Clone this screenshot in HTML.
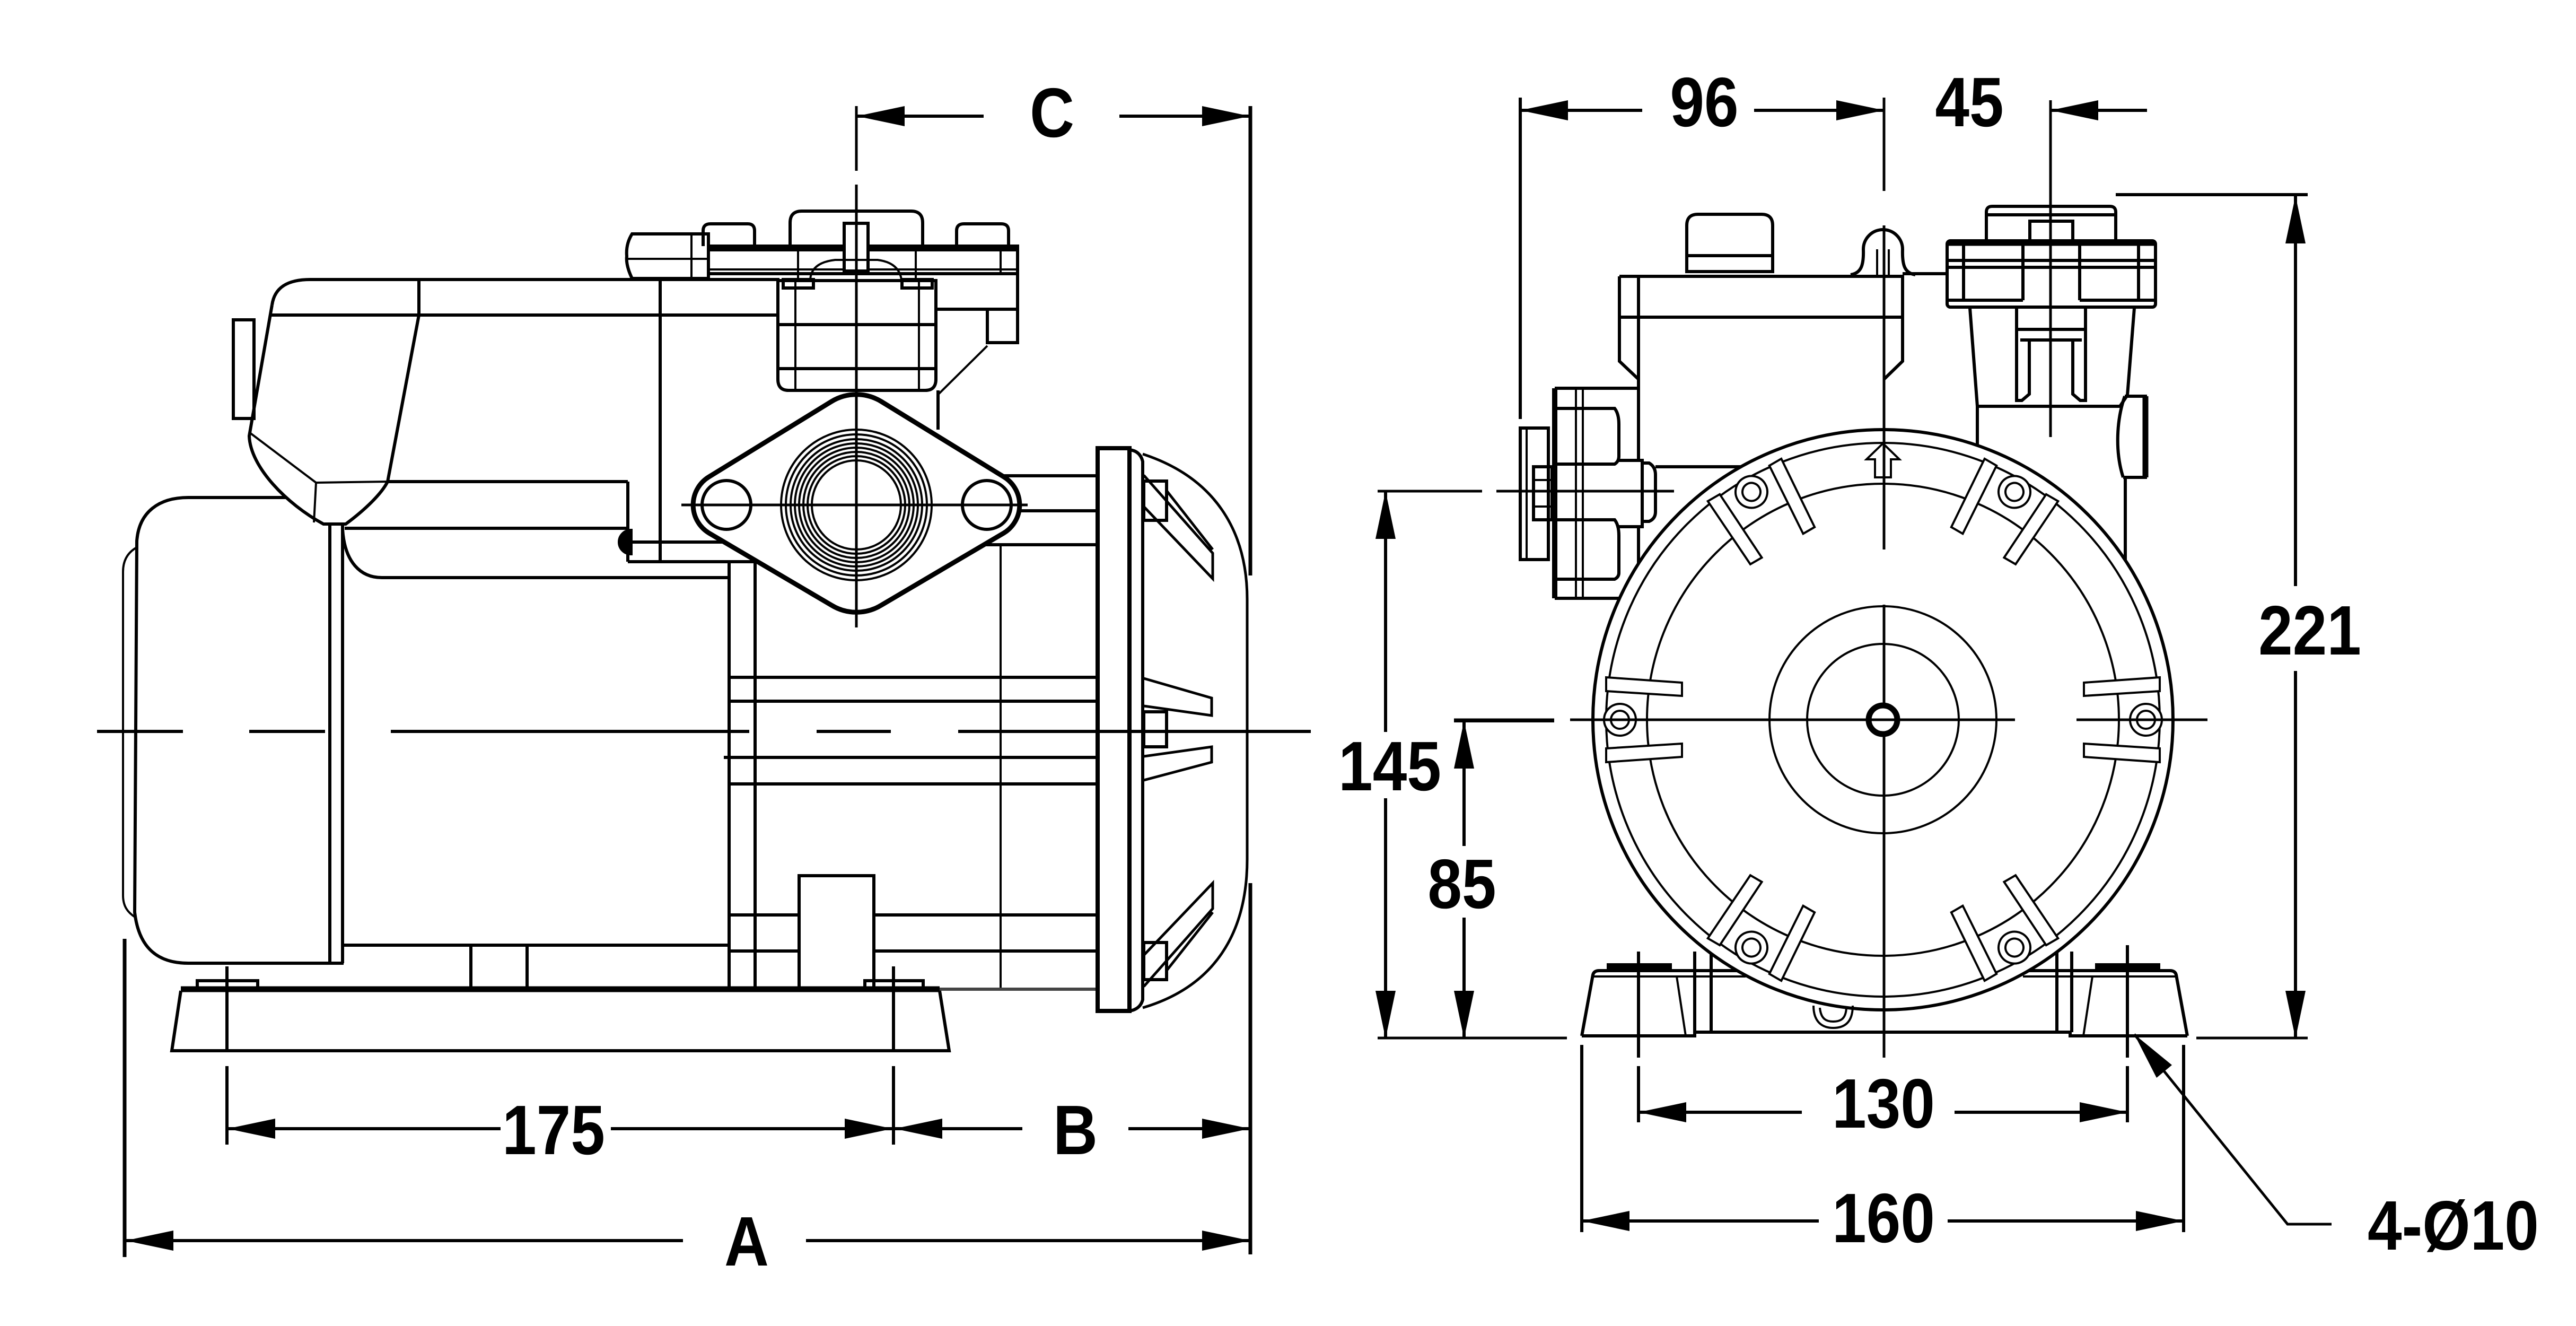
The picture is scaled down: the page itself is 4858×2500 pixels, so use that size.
<!DOCTYPE html>
<html><head><meta charset="utf-8"><style>
html,body{margin:0;padding:0;background:#fff;}
svg{display:block}
.k{stroke:#000;fill:none;stroke-width:6;stroke-linecap:butt;stroke-linejoin:miter}
.t{stroke-width:4}
.w{fill:#fff}
.tx{font-family:"Liberation Sans",Arial,sans-serif;font-weight:bold;font-size:132px;fill:#000}
</style></head><body>
<svg width="4858" height="2500" viewBox="0 0 4858 2500" xmlns="http://www.w3.org/2000/svg">
<defs>
<g id="bolt">
 <polygon class="k t w" points="379,45 522,54 522,80 379,70"/>
 <polygon class="k t w" points="379,-45 522,-54 522,-80 379,-70"/>
 <circle cx="496" cy="0" r="30" class="k t w"/>
 <circle cx="496" cy="0" r="17" class="k t"/>
</g>
</defs>
<rect width="4858" height="2500" fill="#fff"/>

<!-- ================= LEFT VIEW ================= -->
<g class="k">
 <!-- motor rear cap -->
 <path d="M540,938 L355,938 C300,938 262,965 258,1020 L254,1720 C262,1790 300,1816 355,1816 L648,1816"/>
 <path class="t" d="M258,1032 C240,1042 232,1058 232,1078 L232,1688 C232,1708 240,1720 256,1730"/>
 <line x1="622" y1="989" x2="622" y2="1816"/>
 <line x1="646" y1="989" x2="646" y2="1816"/>
 <!-- control box -->
 <path d="M513,575 C518,540 545,527 585,527 L1470,527"/>
 <line x1="509" y1="594" x2="1467" y2="594"/>
 <path d="M790,527 L790,594 L731,908"/>
 <path d="M513,575 L470,822 C472,880 540,950 610,988 L652,988 C690,960 720,930 731,908"/>
 <path class="t" d="M470,815 L596,910 L730,908 M596,910 L592,985"/>
 <rect x="440" y="603" width="39" height="186"/>
 <!-- motor top -->
 <line x1="650" y1="996" x2="1184" y2="996"/>
 <line x1="730" y1="908" x2="1184" y2="908"/>
 <line x1="1184" y1="908" x2="1184" y2="1059"/>
 <line x1="1184" y1="1022" x2="1375" y2="1022"/>
 <line x1="1184" y1="1059" x2="1424" y2="1059"/>
 <path d="M646,998 C650,1060 680,1089 720,1089 L1375,1089"/>
 <line x1="1245" y1="527" x2="1245" y2="1059"/>
 <!-- motor bottom -->
 <line x1="646" y1="1782" x2="1375" y2="1782"/>
 <line x1="888" y1="1782" x2="888" y2="1865"/>
 <line x1="994" y1="1782" x2="994" y2="1865"/>
 <!-- casing -->
 <line x1="1375" y1="1059" x2="1375" y2="1865"/>
 <line x1="1424" y1="1059" x2="1424" y2="1865"/>
 <line x1="1887" y1="1027" x2="1887" y2="1865" class="t"/>
 <line x1="1375" y1="1277" x2="2070" y2="1277"/>
 <line x1="1375" y1="1322" x2="2070" y2="1322"/>
 <line x1="1365" y1="1428" x2="2070" y2="1428"/>
 <line x1="1375" y1="1478" x2="2070" y2="1478"/>
 <line x1="1375" y1="1725" x2="1507" y2="1725"/>
 <line x1="1648" y1="1725" x2="2070" y2="1725"/>
 <line x1="1375" y1="1793" x2="1507" y2="1793"/>
 <line x1="1648" y1="1793" x2="2070" y2="1793"/>
 <rect x="1507" y="1651" width="141" height="214"/>
 <line x1="1772" y1="1865" x2="2070" y2="1865" stroke="#444"/>
 <!-- base -->
 <line x1="341" y1="1865" x2="1772" y2="1865" stroke-width="11"/>
 <path d="M341,1868 L324,1981 L1790,1981 L1772,1868"/>
 <rect x="372" y="1849" width="114" height="16"/>
 <rect x="1631" y="1849" width="110" height="16"/>

 <!-- top outlet assembly -->
 <path d="M1490,464 L1490,420 Q1490,398 1512,398 L1718,398 Q1740,398 1740,420 L1740,464"/>
 <path d="M1326,464 L1326,435 Q1326,422 1340,422 L1410,422 Q1423,422 1423,435 L1423,464"/>
 <path d="M1804,464 L1804,435 Q1804,422 1818,422 L1888,422 Q1902,422 1902,435 L1902,464"/>
 <rect x="1336" y="464" width="583" height="52"/>
 <line x1="1336" y1="470" x2="1919" y2="470" stroke-width="8"/>
 <line x1="1336" y1="508" x2="1919" y2="508" class="t"/>
 <line x1="1505" y1="470" x2="1505" y2="527" class="t"/>
 <line x1="1727" y1="470" x2="1727" y2="527" class="t"/>
 <line x1="1887" y1="470" x2="1887" y2="516" class="t"/>
 <path d="M1192,441 L1336,441 L1336,525 L1192,525 Q1180,500 1182,483 Q1180,460 1192,441 Z"/>
 <line x1="1182" y1="488" x2="1336" y2="488" class="t"/>
 <line x1="1304" y1="441" x2="1304" y2="525" class="t"/>
 <rect x="1592" y="421" width="45" height="90" class="w"/>
 <line x1="1615" y1="421" x2="1615" y2="511" class="t"/>
 <path d="M1528,527 Q1530,495 1575,490 L1655,490 Q1695,495 1700,527" class="t"/>
 <rect x="1477" y="527" width="57" height="16"/>
 <rect x="1701" y="527" width="57" height="16"/>
 <path d="M1467,529 L1765,529 L1765,715 Q1765,736 1745,736 L1487,736 Q1467,736 1467,715 Z"/>
 <line x1="1500" y1="529" x2="1500" y2="736" class="t"/>
 <line x1="1733" y1="529" x2="1733" y2="736" class="t"/>
 <line x1="1467" y1="612" x2="1765" y2="612"/>
 <line x1="1467" y1="695" x2="1765" y2="695"/>
 <path d="M1765,516 L1919,516 L1919,646 L1862,646 L1862,583 L1765,583"/>
 <line x1="1862" y1="583" x2="1919" y2="583"/>
 <path d="M1862,652 L1769,744" class="t"/>
 <line x1="1769" y1="736" x2="1769" y2="810"/>
 <path d="M1190,1000 A22,22 0 0 0 1190,1044 Z" fill="#000"/>

 <!-- flange lines on right -->
 <line x1="1860" y1="897" x2="2070" y2="897"/>
 <line x1="1860" y1="963" x2="2070" y2="963"/>
 <line x1="1860" y1="1027" x2="2070" y2="1027"/>
 <!-- outlet flange diamond -->
 <path class="w" stroke-width="9" d="M1337,899 L1568,757 A90,90 0 0 1 1662,757 L1893,899 A62,62 0 0 1 1893,1005 L1662,1141 A90,90 0 0 1 1568,1141 L1337,1005 A62,62 0 0 1 1337,899 Z"/>
 <circle cx="1370" cy="952" r="46"/>
 <circle cx="1861" cy="952" r="46"/>
 <g class="t" stroke-width="3.5">
  <circle cx="1615" cy="952" r="84"/><circle cx="1615" cy="952" r="92"/>
  <circle cx="1615" cy="952" r="100"/><circle cx="1615" cy="952" r="108"/>
  <circle cx="1615" cy="952" r="116"/><circle cx="1615" cy="952" r="124"/>
  <circle cx="1615" cy="952" r="133"/><circle cx="1615" cy="952" r="142"/>
 </g>
 <line x1="1285" y1="952" x2="1938" y2="952" stroke-width="5"/>
 <line x1="1615" y1="200" x2="1615" y2="322" stroke-width="5"/>
 <line x1="1615" y1="348" x2="1615" y2="1183" stroke-width="5"/>

 <!-- right end flange and fan cover -->
 <rect x="2070" y="845" width="60" height="1061" stroke-width="8"/>
 <path d="M2130,848 Q2150,850 2155,870 L2155,1885 Q2150,1903 2130,1906"/>
 <path d="M2155,856 C2290,900 2352,1000 2352,1130 L2352,1620 C2352,1760 2290,1860 2155,1900" stroke-width="5"/>
 <rect x="2157" y="907" width="43" height="74"/>
 <path d="M2157,896 L2287,1043 L2287,1091 L2157,955 M2200,925 L2287,1036" stroke-width="5"/>
 <rect x="2157" y="1342" width="43" height="66"/>
 <polyline points="2157,1279 2285,1316 2285,1349 2157,1331" stroke-width="5"/>
 <polyline points="2157,1426 2285,1408 2285,1437 2157,1471" stroke-width="5"/>
 <rect x="2157" y="1777" width="43" height="70"/>
 <path d="M2157,1860 L2287,1713 L2287,1665 L2157,1801 M2200,1830 L2287,1720" stroke-width="5"/>

 <!-- centre line -->
 <g stroke-width="6">
  <line x1="183" y1="1379" x2="345" y2="1379"/>
  <line x1="470" y1="1379" x2="613" y2="1379"/>
  <line x1="737" y1="1379" x2="1413" y2="1379"/>
  <line x1="1540" y1="1379" x2="1680" y2="1379"/>
  <line x1="1807" y1="1379" x2="2472" y2="1379"/>
 </g>

 <!-- dimension lines left view -->
 <line x1="1616" y1="219" x2="1855" y2="219"/>
 <line x1="2111" y1="219" x2="2357" y2="219"/>
 <line x1="2358" y1="200" x2="2358" y2="1085" stroke-width="7"/>
 <line x1="2358" y1="1665" x2="2358" y2="2365" stroke-width="7"/>
 <line x1="429" y1="2128" x2="944" y2="2128"/>
 <line x1="1152" y1="2128" x2="1928" y2="2128"/>
 <line x1="2128" y1="2128" x2="2358" y2="2128"/>
 <line x1="428" y1="1822" x2="428" y2="1984"/>
 <line x1="428" y1="2010" x2="428" y2="2158"/>
 <line x1="1685" y1="1822" x2="1685" y2="1984"/>
 <line x1="1685" y1="2010" x2="1685" y2="2158"/>
 <line x1="237" y1="2339" x2="1288" y2="2339"/>
 <line x1="1520" y1="2339" x2="2358" y2="2339"/>
 <line x1="235" y1="1770" x2="235" y2="2370" stroke-width="7"/>
</g>

<!-- ================= RIGHT VIEW ================= -->
<g class="k">
 <!-- base -->
 <path d="M2983,1953 L3004,1838 Q3006,1830 3016,1830 L3292,1830"/>
 <line x1="3004" y1="1841" x2="3292" y2="1841" class="t"/>
 <path d="M4125,1953 L4104,1838 Q4102,1830 4092,1830 L3815,1830"/>
 <line x1="3815" y1="1841" x2="4104" y2="1841" class="t"/>
 <path d="M2983,1953 L3196,1953 L3196,1946 L3904,1946 L3904,1953 L4125,1953"/>
 <line x1="3162" y1="1841" x2="3179" y2="1953" class="t"/>
 <line x1="3946" y1="1841" x2="3929" y2="1953" class="t"/>
 <line x1="3196" y1="1794" x2="3196" y2="1946"/>
 <line x1="3227" y1="1794" x2="3227" y2="1946"/>
 <line x1="3879" y1="1794" x2="3879" y2="1946"/>
 <line x1="3907" y1="1794" x2="3907" y2="1946"/>
 <rect x="3033" y="1819" width="117" height="11" fill="#000"/>
 <rect x="3954" y="1819" width="117" height="11" fill="#000"/>

 <!-- pump body -->
 <path d="M3054,521 L3588,521 L3588,681 L3553,715 M3054,521 L3054,681 L3090,715"/>
 <line x1="3054" y1="598" x2="3588" y2="598"/>
 <line x1="3090" y1="521" x2="3090" y2="868"/>
 <line x1="3090" y1="993" x2="3090" y2="1070"/>
 <path d="M3181,512 L3181,425 Q3181,404 3202,404 L3322,404 Q3343,404 3343,425 L3343,512 Z"/>
 <line x1="3181" y1="482" x2="3343" y2="482"/>
 <path d="M3490,518 C3510,515 3515,500 3514,470 A37,37 0 0 1 3588,470 C3587,500 3592,515 3612,518"/>
 <line x1="3540" y1="470" x2="3540" y2="521" class="t"/>
 <line x1="3562" y1="470" x2="3562" y2="521" class="t"/>
 <line x1="3588" y1="516" x2="3672" y2="516"/>
 <!-- outlet fitting (front) -->
 <path d="M3746,454 L3746,400 Q3746,389 3757,389 L3979,389 Q3990,389 3990,400 L3990,454"/>
 <line x1="3746" y1="405" x2="3990" y2="405"/>
 <path d="M3828,454 L3828,417 L3909,417 L3909,454"/>
 <rect x="3672" y="454" width="393" height="125" rx="6"/>
 <line x1="3672" y1="459" x2="4065" y2="459" stroke-width="9"/>
 <line x1="3672" y1="491" x2="4065" y2="491"/>
 <line x1="3672" y1="504" x2="4065" y2="504"/>
 <line x1="3672" y1="566" x2="3815" y2="566"/>
 <line x1="3922" y1="566" x2="4065" y2="566"/>
 <line x1="3703" y1="454" x2="3703" y2="566"/>
 <line x1="3815" y1="454" x2="3815" y2="566"/>
 <line x1="3922" y1="454" x2="3922" y2="566"/>
 <line x1="4033" y1="454" x2="4033" y2="566"/>
 <line x1="3715" y1="581" x2="3729" y2="766"/>
 <line x1="4025" y1="581" x2="4012" y2="745"/>
 <path d="M3803,579 L3803,755 L3813,755 L3827,743 L3827,641"/>
 <path d="M3933,579 L3933,755 L3923,755 L3909,743 L3909,641"/>
 <line x1="3803" y1="621" x2="3933" y2="621"/>
 <line x1="3810" y1="641" x2="3926" y2="641"/>
 <path d="M3729,766 L3998,766 L4012,745"/>
 <path d="M4007,747 L4046,747 L4046,900 L4004,900 M4007,747 C3992,790 3988,850 4004,900"/>
 <line x1="4046" y1="747" x2="4046" y2="900" stroke-width="11"/>
 <line x1="4008" y1="900" x2="4008" y2="1075"/>
 <line x1="3729" y1="766" x2="3729" y2="840"/>
 <!-- inlet -->
 <line x1="2932" y1="732" x2="3090" y2="732"/>
 <line x1="2932" y1="1128" x2="3053" y2="1128"/>
 <line x1="2932" y1="732" x2="2932" y2="1128" stroke-width="10"/>
 <line x1="2972" y1="732" x2="2972" y2="1128" class="t"/>
 <line x1="2985" y1="732" x2="2985" y2="1128" class="t"/>
 <path d="M2937,770 L3045,770 Q3053,780 3053,800 L3053,860 Q3053,870 3045,875 L2937,875"/>
 <path d="M2937,980 L3045,980 Q3053,990 3053,1010 L3053,1080 Q3053,1088 3045,1092 L2937,1092"/>
 <path d="M2867,807 L2920,807 L2920,1055 L2867,1055 Z"/>
 <line x1="2879" y1="807" x2="2879" y2="1055" class="t"/>
 <rect x="2892" y="880" width="35" height="100"/>
 <line x1="2892" y1="905" x2="2927" y2="905" class="t"/>
 <line x1="2892" y1="955" x2="2927" y2="955" class="t"/>
 <path d="M3053,868 L3097,868 L3097,993 L3053,993"/>
 <path d="M3097,873 L3110,873 Q3122,880 3122,895 L3122,965 Q3122,978 3110,983 L3097,983"/>
 <line x1="3122" y1="880" x2="3285" y2="880"/>

 <!-- motor face -->
 <circle cx="3551" cy="1357" r="547" class="w"/>
 <circle cx="3551" cy="1357" r="522" class="t"/>
 <circle cx="3551" cy="1357" r="445" class="t"/>
 <circle cx="3551" cy="1357" r="214" class="t"/>
 <circle cx="3551" cy="1357" r="143" class="t"/>
 <circle cx="3551" cy="1357" r="27" stroke-width="11"/>
 <use href="#bolt" transform="translate(3551,1357) rotate(0)"/>
 <use href="#bolt" transform="translate(3551,1357) rotate(-60)"/>
 <use href="#bolt" transform="translate(3551,1357) rotate(-120)"/>
 <use href="#bolt" transform="translate(3551,1357) rotate(180)"/>
 <use href="#bolt" transform="translate(3551,1357) rotate(120)"/>
 <use href="#bolt" transform="translate(3551,1357) rotate(60)"/>
 <polygon class="t w" points="3551,836 3582,866 3566,866 3566,900 3536,900 3536,866 3520,866"/>
 <path d="M3420,1896 C3420,1930 3440,1938 3457,1938 C3476,1938 3494,1930 3494,1896" class="t"/>
 <path d="M3432,1900 C3434,1922 3445,1926 3457,1926 C3470,1926 3481,1922 3482,1900" class="t"/>

 <!-- centre lines -->
 <g stroke-width="5">
  <line x1="2742" y1="1357" x2="2931" y2="1357"/>
  <line x1="2961" y1="1357" x2="3800" y2="1357"/>
  <line x1="3916" y1="1357" x2="4163" y2="1357"/>
  <line x1="3553" y1="184" x2="3553" y2="360"/>
  <line x1="3553" y1="425" x2="3553" y2="1036"/>
  <line x1="3553" y1="1140" x2="3553" y2="1330"/>
  <line x1="3553" y1="1385" x2="3553" y2="1994"/>
  <line x1="3867" y1="189" x2="3867" y2="824"/>
  <line x1="2598" y1="926" x2="2795" y2="926"/>
  <line x1="2822" y1="926" x2="3157" y2="926"/>
  <line x1="2598" y1="1957" x2="2955" y2="1957"/>
  <line x1="4142" y1="1957" x2="4352" y2="1957"/>
 </g>

 <!-- dimension lines -->
 <line x1="2867" y1="208" x2="3097" y2="208"/>
 <line x1="3308" y1="208" x2="3553" y2="208"/>
 <line x1="2867" y1="184" x2="2867" y2="790"/>
 <line x1="3867" y1="208" x2="4049" y2="208"/>
 <line x1="4329" y1="369" x2="4329" y2="1105"/>
 <line x1="4329" y1="1265" x2="4329" y2="1958"/>
 <line x1="3990" y1="367" x2="4352" y2="367"/>
 <line x1="2613" y1="926" x2="2613" y2="1380"/>
 <line x1="2613" y1="1505" x2="2613" y2="1958"/>
 <line x1="2761" y1="1359" x2="2761" y2="1595"/>
 <line x1="2761" y1="1730" x2="2761" y2="1958"/>
 <line x1="2742" y1="1359" x2="2931" y2="1359"/>
 <line x1="3090" y1="1794" x2="3090" y2="1994"/>
 <line x1="3090" y1="2010" x2="3090" y2="2116"/>
 <line x1="4012" y1="1782" x2="4012" y2="1994"/>
 <line x1="4012" y1="2010" x2="4012" y2="2116"/>
 <line x1="3090" y1="2097" x2="3398" y2="2097"/>
 <line x1="3686" y1="2097" x2="4012" y2="2097"/>
 <line x1="2983" y1="1970" x2="2983" y2="2323"/>
 <line x1="4118" y1="1970" x2="4118" y2="2323"/>
 <line x1="2983" y1="2302" x2="3430" y2="2302"/>
 <line x1="3673" y1="2302" x2="4118" y2="2302"/>
 <polyline points="4025,1950 4314,2308 4397,2308" stroke-width="5"/>
</g>

<!-- arrowheads -->
<g fill="#000">
 <polygon points="1616,219 1706,200 1706,238"/>
 <polygon points="2357,219 2267,200 2267,238"/>
 <polygon points="429,2128 519,2109 519,2147"/>
 <polygon points="1683,2128 1593,2109 1593,2147"/>
 <polygon points="1687,2128 1777,2109 1777,2147"/>
 <polygon points="2357,2128 2267,2109 2267,2147"/>
 <polygon points="237,2339 327,2320 327,2358"/>
 <polygon points="2357,2339 2267,2320 2267,2358"/>
 <polygon points="2867,208 2957,189 2957,227"/>
 <polygon points="3553,208 3463,189 3463,227"/>
 <polygon points="3867,208 3957,189 3957,227"/>
 <polygon points="4329,369 4310,459 4348,459"/>
 <polygon points="4329,1958 4310,1868 4348,1868"/>
 <polygon points="2613,926 2594,1016 2632,1016"/>
 <polygon points="2613,1958 2594,1868 2632,1868"/>
 <polygon points="2761,1359 2742,1449 2780,1449"/>
 <polygon points="2761,1958 2742,1868 2780,1868"/>
 <polygon points="3090,2097 3180,2078 3180,2116"/>
 <polygon points="4012,2097 3922,2078 3922,2116"/>
 <polygon points="2983,2302 3073,2283 3073,2321"/>
 <polygon points="4118,2302 4028,2283 4028,2321"/>
 <polygon points="4025,1950 4067,2032 4096,2008"/>
</g>

<!-- labels -->
<g class="tx" text-anchor="middle">
 <text transform="translate(1984,258) scale(0.88,1)">C</text>
 <text transform="translate(1044,2176) scale(0.88,1)">175</text>
 <text transform="translate(2028,2176) scale(0.88,1)">B</text>
 <text transform="translate(1408,2386) scale(0.88,1)">A</text>
 <text transform="translate(3214,238) scale(0.88,1)">96</text>
 <text transform="translate(3714,238) scale(0.88,1)">45</text>
 <text transform="translate(4356,1234) scale(0.88,1)">221</text>
 <text transform="translate(2621,1490) scale(0.88,1)">145</text>
 <text transform="translate(2757,1712) scale(0.88,1)">85</text>
 <text transform="translate(3552,2126) scale(0.88,1)">130</text>
 <text transform="translate(3552,2342) scale(0.88,1)">160</text>
</g>
<text class="tx" transform="translate(4465,2356) scale(0.88,1)">4-Ø10</text>
</svg>
</body></html>
